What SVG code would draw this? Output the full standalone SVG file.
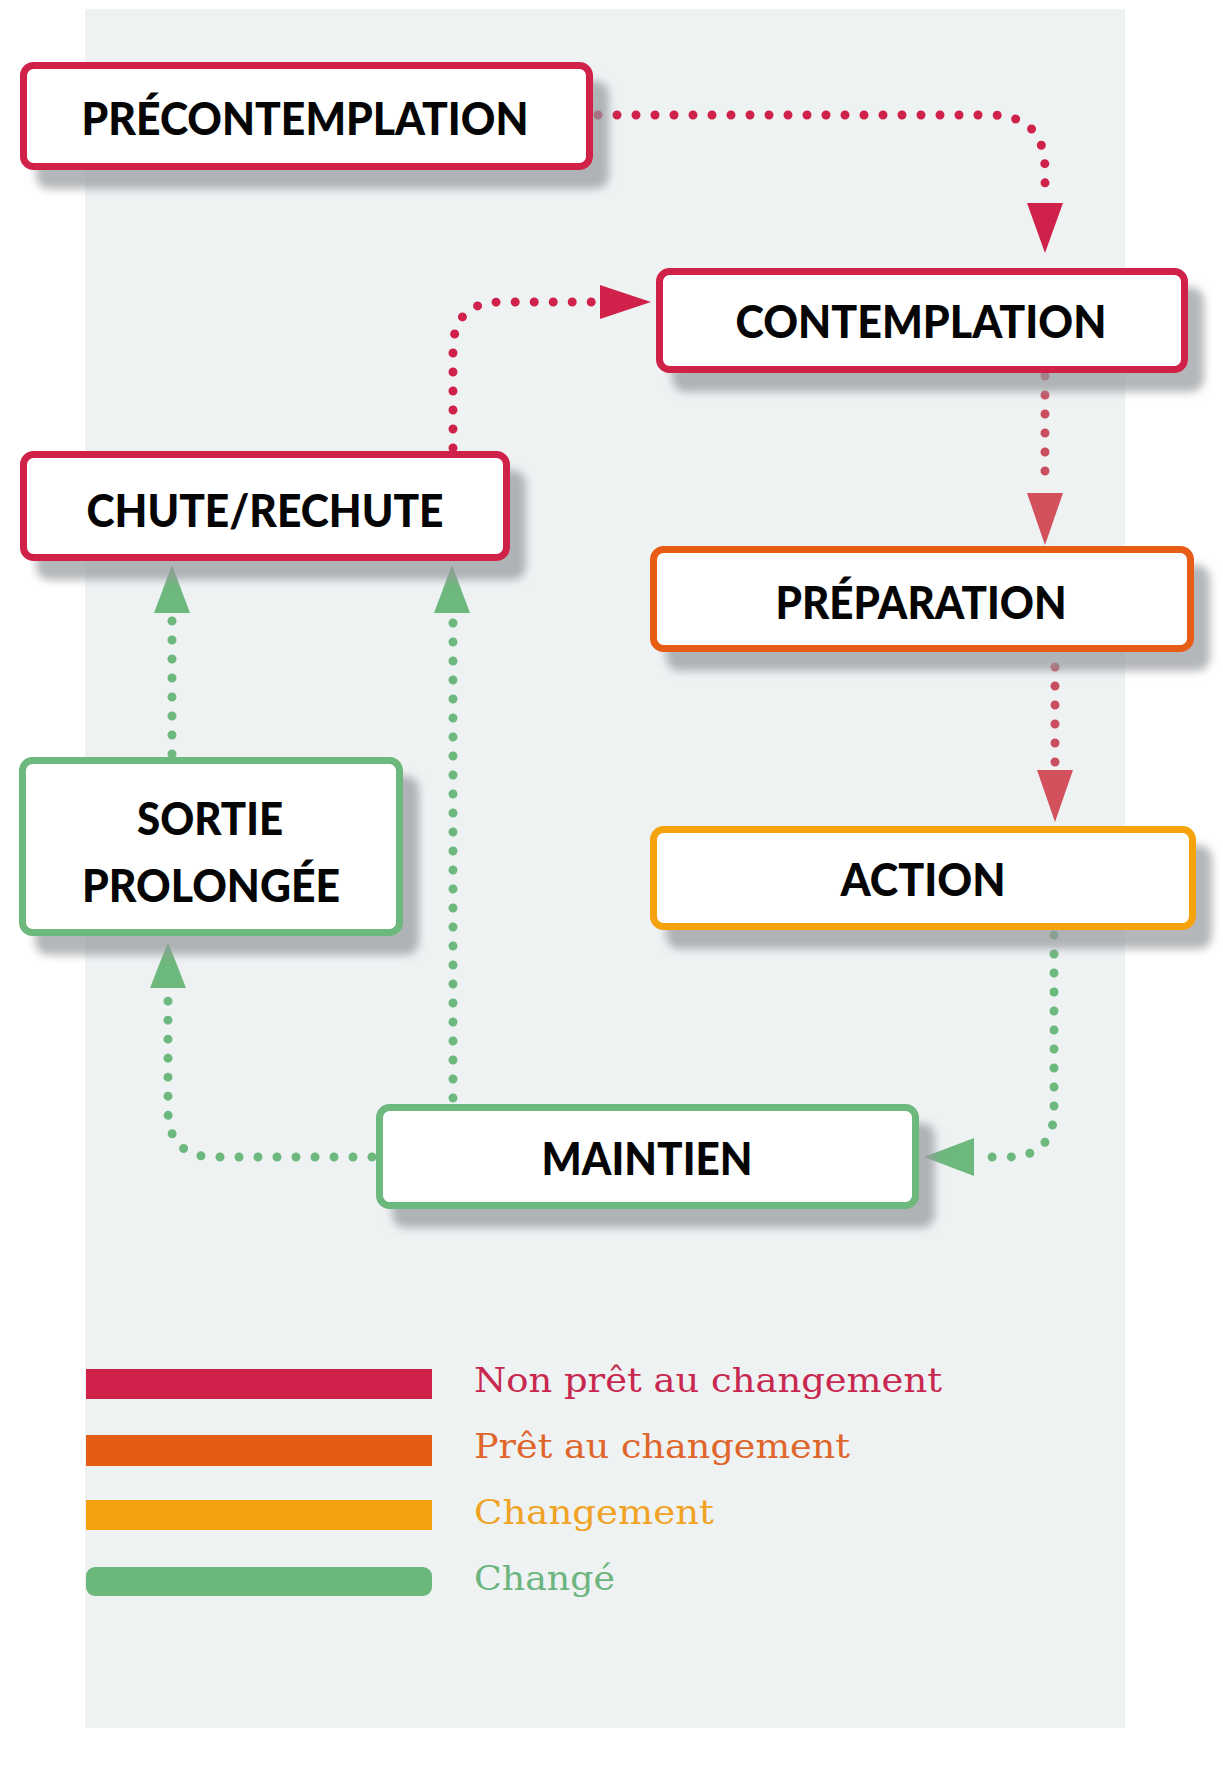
<svg xmlns="http://www.w3.org/2000/svg" width="1223" height="1783" viewBox="0 0 1223 1783">
<defs>
<filter id="sh" x="-10%" y="-20%" width="130%" height="160%">
<feDropShadow dx="16" dy="19" stdDeviation="4.5" flood-color="#94989b" flood-opacity="0.7"/>
</filter>
<style>
.box{fill:#ffffff;stroke-width:7;filter:url(#sh)}
.red{stroke:#d0214a}
.orange{stroke:#e85d17}
.yellow{stroke:#f5a20f}
.green{stroke:#6db87d}
.lbl{font-family:Lato,"Open Sans","Liberation Sans",sans-serif;font-weight:900;font-size:46px;fill:#050505;text-anchor:middle}
.dots{fill:none;stroke-width:9;stroke-linecap:round;stroke-dasharray:0 19}
.leg{font-family:"DejaVu Serif","Liberation Serif",serif;font-size:34px}
</style>
</defs>
<rect x="0" y="0" width="1223" height="1783" fill="#ffffff"/>
<rect x="85" y="9" width="1040" height="1719" fill="#eef2f3"/>

<g id="connectors">
<path class="dots" stroke="#d0214a" d="M 598 115 H 990 Q 1045 115 1045 170 V 198"/>
<polygon fill="#d0214a" points="1027,203 1063,203 1045,253"/>
<path class="dots" stroke="#d0214a" d="M 453 448 V 350 Q 453 302 501 302 H 596"/>
<polygon fill="#d0214a" points="600,285 600,319 651,302"/>
<path class="dots" stroke="#c94e60" d="M 1045 376 V 488"/>
<polygon fill="#d2515c" points="1027,493 1063,493 1045,545"/>
<path class="dots" stroke="#c94e60" d="M 1055 667 V 765"/>
<polygon fill="#d2515c" points="1037,770 1073,770 1055,822"/>
<path class="dots" stroke="#6db87d" d="M 1054 935 V 1110 Q 1054 1157 1007 1157 H 980"/>
<polygon fill="#6db87d" points="974,1138 974,1176 924,1157"/>
<path class="dots" stroke="#6db87d" d="M 372 1157 H 215 Q 168 1157 168 1110 V 994"/>
<polygon fill="#6db87d" points="150,988 186,988 168,942"/>
<path class="dots" stroke="#6db87d" d="M 453 1098 V 620"/>
<polygon fill="#6db87d" points="434,613 470,613 452,565"/>
<path class="dots" stroke="#6db87d" d="M 172 754 V 620"/>
<polygon fill="#6db87d" points="154,613 190,613 172,565"/>
</g>

<g id="precontemplation">
<rect class="box red" x="23.5" y="65.5" width="566" height="101" rx="10"/>
<text class="lbl" x="305" y="135" textLength="447" lengthAdjust="spacingAndGlyphs">PRÉCONTEMPLATION</text>
</g>
<g id="contemplation">
<rect class="box red" x="659.5" y="271.5" width="525" height="98" rx="10"/>
<text class="lbl" x="921" y="338" textLength="371" lengthAdjust="spacingAndGlyphs">CONTEMPLATION</text>
</g>
<g id="chute">
<rect class="box red" x="23.5" y="454.5" width="483" height="103" rx="10"/>
<text class="lbl" x="265" y="527" textLength="357" lengthAdjust="spacingAndGlyphs">CHUTE/RECHUTE</text>
</g>
<g id="preparation">
<rect class="box orange" x="653.5" y="549.5" width="537" height="99" rx="10"/>
<text class="lbl" x="921" y="619" textLength="291" lengthAdjust="spacingAndGlyphs">PRÉPARATION</text>
</g>
<g id="action">
<rect class="box yellow" x="653.5" y="829.5" width="539" height="97" rx="10"/>
<text class="lbl" x="923" y="896" textLength="165" lengthAdjust="spacingAndGlyphs">ACTION</text>
</g>
<g id="sortie">
<rect class="box green" x="22.5" y="760.5" width="377" height="172" rx="10"/>
<text class="lbl" x="210" y="835" textLength="146" lengthAdjust="spacingAndGlyphs">SORTIE</text>
<text class="lbl" x="211" y="902" textLength="258" lengthAdjust="spacingAndGlyphs">PROLONGÉE</text>
</g>
<g id="maintien">
<rect class="box green" x="379.5" y="1107.5" width="536" height="98" rx="10"/>
<text class="lbl" x="647" y="1175" textLength="211" lengthAdjust="spacingAndGlyphs">MAINTIEN</text>
</g>

<g id="legend">
<rect x="86" y="1369" width="346" height="30" fill="#d0214a"/>
<rect x="86" y="1435" width="346" height="31" fill="#e55c14"/>
<rect x="86" y="1500" width="346" height="30" fill="#f5a10f"/>
<rect x="86" y="1567" width="346" height="29" rx="9" fill="#6cb87c"/>
<text class="leg" x="474" y="1392" fill="#c8284f" textLength="468" lengthAdjust="spacingAndGlyphs">Non prêt au changement</text>
<text class="leg" x="474" y="1458" fill="#e0652a" textLength="376" lengthAdjust="spacingAndGlyphs">Prêt au changement</text>
<text class="leg" x="474" y="1524" fill="#f0a223" textLength="240" lengthAdjust="spacingAndGlyphs">Changement</text>
<text class="leg" x="474" y="1590" fill="#6db57e" textLength="141" lengthAdjust="spacingAndGlyphs">Changé</text>
</g>
</svg>
